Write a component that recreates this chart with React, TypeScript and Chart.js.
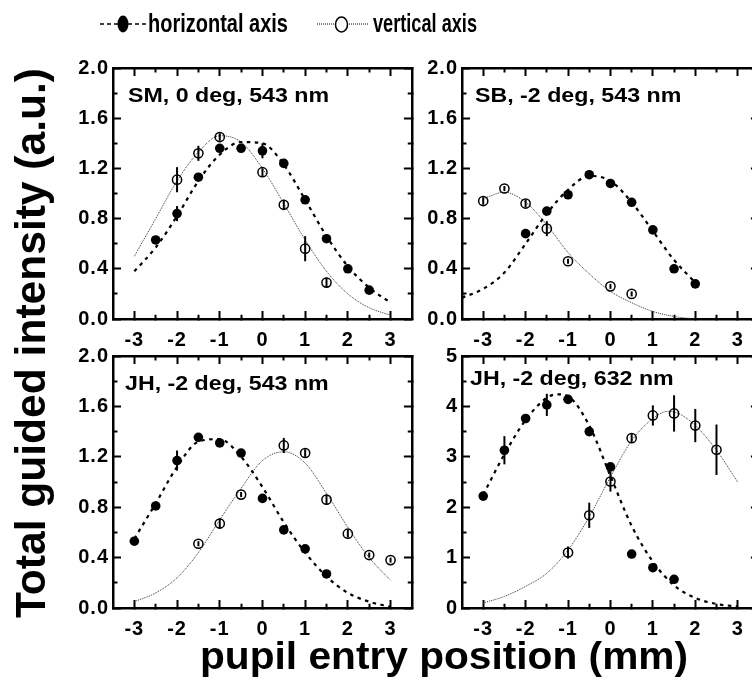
import React, { useEffect, useRef } from "react";
import { Chart, registerables } from "chart.js";

Chart.register(...registerables);

const FONT = "'Liberation Sans', Arial, Helvetica, sans-serif";

// ---- shared ticks / labels ----
const xTickValues = [-3, -2, -1, 0, 1, 2, 3];
const yTickValuesSmall = [0, 0.4, 0.8, 1.2, 1.6, 2.0];
const yTickLabelsSmall = ["0.0", "0.4", "0.8", "1.2", "1.6", "2.0"];
const yTickValuesLarge = [0, 1, 2, 3, 4, 5];
const yTickLabelsLarge = ["0", "1", "2", "3", "4", "5"];
const legendLabels = ["horizontal axis", "vertical axis"];
const xAxisTitle = "pupil entry position (mm)";
const yAxisTitle = "Total guided intensity (a.u.)";

const fitX = [-3, -2.5, -2, -1.5, -1, -0.5, 0, 0.5, 1, 1.5, 2, 2.5, 3];

// ---- Panel 1: SM, 0 deg, 543 nm ----
const p1Title = "SM, 0 deg, 543 nm";
const p1HorizX = [-2.5, -2, -1.5, -1, -0.5, 0, 0.5, 1, 1.5, 2, 2.5];
const p1HorizY = [0.63, 0.84, 1.13, 1.36, 1.36, 1.34, 1.24, 0.95, 0.64, 0.4, 0.23];
const p1HorizErr = [0.02, 0.06, 0.02, 0.02, 0.02, 0.06, 0.02, 0.02, 0.02, 0.02, 0.02];
const p1VertX = [-2, -1.5, -1, 0, 0.5, 1, 1.5];
const p1VertY = [1.11, 1.32, 1.45, 1.17, 0.91, 0.56, 0.29];
const p1VertErr = [0.1, 0.06, 0.03, 0.03, 0.04, 0.1, 0.04];
const p1HorizFitX = fitX;
const p1HorizFitY = [0.38, 0.57, 0.82, 1.1, 1.31, 1.41, 1.4, 1.23, 0.95, 0.66, 0.42, 0.25, 0.13];
const p1VertFitX = fitX;
const p1VertFitY = [0.5, 0.8, 1.1, 1.33, 1.46, 1.41, 1.2, 0.92, 0.63, 0.38, 0.2, 0.09, 0.03];

// ---- Panel 2: SB, -2 deg, 543 nm ----
const p2Title = "SB, -2 deg, 543 nm";
const p2HorizX = [-2, -1.5, -1, -0.5, 0, 0.5, 1, 1.5, 2];
const p2HorizY = [0.68, 0.86, 0.99, 1.15, 1.08, 0.93, 0.71, 0.4, 0.28];
const p2HorizErr = [0.02, 0.02, 0.02, 0.02, 0.02, 0.02, 0.02, 0.02, 0.02];
const p2VertX = [-3, -2.5, -2, -1.5, -1, 0, 0.5];
const p2VertY = [0.94, 1.04, 0.92, 0.72, 0.46, 0.26, 0.2];
const p2VertErr = [0.03, 0.02, 0.03, 0.06, 0.02, 0.02, 0.02];
const p2HorizFitX = [-3.5, -3, -2.5, -2, -1.5, -1, -0.5, 0, 0.5, 1, 1.5, 2];
const p2HorizFitY = [0.17, 0.24, 0.37, 0.6, 0.84, 1.03, 1.14, 1.1, 0.93, 0.7, 0.47, 0.29];
const p2VertFitX = [-3, -2.5, -2, -1.5, -1, -0.5, 0, 0.5, 1, 1.5, 2];
const p2VertFitY = [0.96, 1.01, 0.93, 0.75, 0.53, 0.36, 0.22, 0.13, 0.06, 0.02, 0.0];

// ---- Panel 3: JH, -2 deg, 543 nm ----
const p3Title = "JH, -2 deg, 543 nm";
const p3HorizX = [-3, -2.5, -2, -1.5, -1, -0.5, 0, 0.5, 1, 1.5];
const p3HorizY = [0.53, 0.81, 1.17, 1.355, 1.31, 1.23, 0.87, 0.62, 0.47, 0.27];
const p3HorizErr = [0.02, 0.02, 0.08, 0.03, 0.02, 0.02, 0.02, 0.02, 0.02, 0.02];
const p3VertX = [-1.5, -1, -0.5, 0.5, 1, 1.5, 2, 2.5, 3];
const p3VertY = [0.51, 0.67, 0.9, 1.29, 1.23, 0.86, 0.59, 0.42, 0.38];
const p3VertErr = [0.02, 0.04, 0.02, 0.06, 0.03, 0.04, 0.03, 0.02, 0.02];
const p3HorizFitX = fitX;
const p3HorizFitY = [0.55, 0.83, 1.12, 1.32, 1.34, 1.2, 0.96, 0.68, 0.44, 0.25, 0.12, 0.05, 0.01];
const p3VertFitX = fitX;
const p3VertFitY = [0.05, 0.12, 0.24, 0.44, 0.7, 0.95, 1.17, 1.24, 1.15, 0.91, 0.64, 0.4, 0.22];

// ---- Panel 4: JH, -2 deg, 632 nm ----
const p4Title = "JH, -2 deg, 632 nm";
const p4HorizX = [-3, -2.5, -2, -1.5, -1, -0.5, 0, 0.5, 1, 1.5];
const p4HorizY = [2.22, 3.13, 3.76, 4.03, 4.14, 3.5, 2.8, 1.07, 0.8, 0.57];
const p4HorizErr = [0.06, 0.28, 0.08, 0.22, 0.06, 0.06, 0.06, 0.05, 0.05, 0.05];
const p4VertX = [-1, -0.5, 0, 0.5, 1, 1.5, 2, 2.5];
const p4VertY = [1.1, 1.84, 2.51, 3.37, 3.82, 3.86, 3.62, 3.14];
const p4VertErr = [0.12, 0.25, 0.2, 0.08, 0.2, 0.36, 0.33, 0.5];
const p4HorizFitX = [-3, -2.5, -2, -1.5, -1.25, -1, -0.5, 0, 0.5, 1, 1.5, 2, 2.5, 3];
const p4HorizFitY = [2.25, 3.05, 3.73, 4.17, 4.24, 4.2, 3.62, 2.62, 1.63, 0.92, 0.45, 0.2, 0.08, 0.03];
const p4VertFitX = [-3, -2.5, -2, -1.5, -1, -0.5, 0, 0.5, 1, 1.35, 1.5, 2, 2.5, 3];
const p4VertFitY = [0.1, 0.23, 0.43, 0.69, 1.15, 1.81, 2.6, 3.32, 3.76, 3.9, 3.89, 3.62, 3.13, 2.5];

type Area = { left: number; top: number; right: number; bottom: number };
type PanelDef = {
  title: string;
  titleDx: number;
  titleDy: number;
  hx: number[]; hy: number[]; he: number[];
  vx: number[]; vy: number[]; ve: number[];
  hfx: number[]; hfy: number[];
  vfx: number[]; vfy: number[];
  yMax: number; yTicks: number[]; yLabels: string[];
  area: Area;
};

const panels: PanelDef[] = [
  {
    title: p1Title, titleDx: 15, titleDy: 33.5,
    hx: p1HorizX, hy: p1HorizY, he: p1HorizErr, vx: p1VertX, vy: p1VertY, ve: p1VertErr,
    hfx: p1HorizFitX, hfy: p1HorizFitY, vfx: p1VertFitX, vfy: p1VertFitY,
    yMax: 2, yTicks: yTickValuesSmall, yLabels: yTickLabelsSmall,
    area: { left: 113, top: 68, right: 413, bottom: 319 },
  },
  {
    title: p2Title, titleDx: 13, titleDy: 33.5,
    hx: p2HorizX, hy: p2HorizY, he: p2HorizErr, vx: p2VertX, vy: p2VertY, ve: p2VertErr,
    hfx: p2HorizFitX, hfy: p2HorizFitY, vfx: p2VertFitX, vfy: p2VertFitY,
    yMax: 2, yTicks: yTickValuesSmall, yLabels: yTickLabelsSmall,
    area: { left: 462, top: 68, right: 760, bottom: 319 },
  },
  {
    title: p3Title, titleDx: 12, titleDy: 33.5,
    hx: p3HorizX, hy: p3HorizY, he: p3HorizErr, vx: p3VertX, vy: p3VertY, ve: p3VertErr,
    hfx: p3HorizFitX, hfy: p3HorizFitY, vfx: p3VertFitX, vfy: p3VertFitY,
    yMax: 2, yTicks: yTickValuesSmall, yLabels: yTickLabelsSmall,
    area: { left: 113, top: 356, right: 413, bottom: 608 },
  },
  {
    title: p4Title, titleDx: 8, titleDy: 29,
    hx: p4HorizX, hy: p4HorizY, he: p4HorizErr, vx: p4VertX, vy: p4VertY, ve: p4VertErr,
    hfx: p4HorizFitX, hfy: p4HorizFitY, vfx: p4VertFitX, vfy: p4VertFitY,
    yMax: 5, yTicks: yTickValuesLarge, yLabels: yTickLabelsLarge,
    area: { left: 462, top: 356, right: 760, bottom: 608 },
  },
];

const Y_W = 50;
const X_H = 36;
const PAD_T = 14;
const PAD_R = 5;
const MAJOR = 8;
const MINOR = 4.5;
const FRAME_W = 2.5;

const pts = (xs: number[], ys: number[]) => xs.map((x, i) => ({ x, y: ys[i] }));

// majors plus midpoints between them (minor tick positions)
const withMinors = (majors: number[]) => {
  const out: number[] = [];
  majors.forEach((v, i) => {
    out.push(v);
    if (i < majors.length - 1) out.push((v + majors[i + 1]) / 2);
  });
  return out;
};

const isMajor = (majors: number[], v: number) => majors.some((m) => Math.abs(m - v) < 1e-9);

const panelPlugin = {
  id: "panelDecor",
  beforeDraw(chart: any) {
    // slightly wider tick label lettering, like the original figure
    (chart.ctx as any).letterSpacing = "1px";
  },
  afterDatasetsDraw(chart: any, _args: any, opts: any) {
    const ctx: CanvasRenderingContext2D = chart.ctx;
    const a = chart.chartArea;
    const xs = chart.scales.x;
    const ys = chart.scales.y;
    ctx.save();
    (ctx as any).letterSpacing = "0px";
    ctx.setLineDash([]);
    ctx.strokeStyle = "#000000";
    ctx.fillStyle = "#000000";
    ctx.lineWidth = 2;
    (opts.errors || []).forEach((errs: number[], di: number) => {
      const ds = chart.data.datasets[di];
      ds.data.forEach((p: any, j: number) => {
        const e = errs[j] || 0;
        const px = xs.getPixelForValue(p.x);
        ctx.beginPath();
        ctx.moveTo(px, ys.getPixelForValue(p.y - e));
        ctx.lineTo(px, ys.getPixelForValue(p.y + e));
        ctx.stroke();
      });
    });
    ctx.font = `bold 20px ${FONT}`;
    ctx.textBaseline = "alphabetic";
    ctx.textAlign = "left";
    ctx.translate(a.left + (opts.titleDx || 12), a.top + (opts.titleDy || 33.5));
    ctx.scale(1.16, 1);
    ctx.fillText(opts.title || "", 0, 0);
    ctx.restore();
  },
};

function makeAxis(
  axis: "x" | "y",
  position: "top" | "bottom" | "left" | "right",
  min: number,
  max: number,
  majors: number[],
  labels: string[] | null,
  size: number,
  labelPadding: number
) {
  const all = withMinors(majors);
  const inwardFirst = position === "top" || position === "left";
  const full = MAJOR + FRAME_W / 2;
  const minorDash = MINOR + FRAME_W / 2;
  return {
    type: "linear",
    axis,
    position,
    min,
    max,
    afterBuildTicks: (s: any) => {
      s.ticks = all.map((v) => ({ value: v }));
    },
    afterFit: (s: any) => {
      if (axis === "x") s.height = size;
      else s.width = size;
      s.paddingLeft = 0;
      s.paddingRight = 0;
      s.paddingTop = 0;
      s.paddingBottom = 0;
    },
    grid: {
      display: true,
      drawOnChartArea: false,
      drawTicks: true,
      tickLength: -MAJOR,
      tickWidth: 2,
      tickColor: "#000",
      tickBorderDash: (c: any) => {
        const v = c.tick ? c.tick.value : 0;
        return isMajor(majors, v) ? [] : [minorDash, 200];
      },
      tickBorderDashOffset: (c: any) => {
        const v = c.tick ? c.tick.value : 0;
        return !isMajor(majors, v) && inwardFirst ? -(full - minorDash) : 0;
      },
    },
    border: { display: true, width: FRAME_W, color: "#000" },
    ticks: {
      display: !!labels,
      autoSkip: false,
      maxRotation: 0,
      padding: labelPadding,
      color: "#000",
      font: { family: FONT, size: 20, weight: "bold" },
      callback: (v: any) => {
        if (!labels) return "";
        const idx = majors.findIndex((m) => Math.abs(m - Number(v)) < 1e-9);
        return idx >= 0 ? labels[idx] : "";
      },
    },
  };
}

function Panel({ def }: { def: PanelDef }) {
  const ref = useRef<HTMLCanvasElement>(null);
  const a = def.area;
  const w = Y_W + (a.right - a.left) + PAD_R;
  const h = PAD_T + (a.bottom - a.top) + X_H;
  const left = a.left - Y_W;
  const top = a.top - PAD_T;

  useEffect(() => {
    const canvas = ref.current;
    if (!canvas) return;
    const chart = new Chart(canvas, {
      type: "scatter",
      data: {
        datasets: [
          {
            data: pts(def.hx, def.hy),
            showLine: false,
            pointRadius: 4.8,
            pointBackgroundColor: "#000",
            pointBorderColor: "#000",
            pointBorderWidth: 0,
          },
          {
            data: pts(def.vx, def.vy),
            showLine: false,
            pointRadius: 4.6,
            pointBackgroundColor: "rgba(0,0,0,0)",
            pointBorderColor: "#000",
            pointBorderWidth: 1.5,
          },
          {
            data: pts(def.hfx, def.hfy),
            showLine: true,
            pointRadius: 0,
            borderColor: "#000",
            borderWidth: 2.2,
            borderDash: [3.5, 4.5],
            cubicInterpolationMode: "monotone",
            fill: false,
          },
          {
            data: pts(def.vfx, def.vfy),
            showLine: true,
            pointRadius: 0,
            borderColor: "#333",
            borderWidth: 1,
            borderDash: [1, 1],
            cubicInterpolationMode: "monotone",
            fill: false,
          },
        ] as any,
      },
      options: {
        responsive: false,
        animation: false,
        devicePixelRatio: 1,
        events: [],
        layout: { padding: { left: 0, top: PAD_T, right: PAD_R, bottom: 0 } },
        plugins: {
          legend: { display: false },
          tooltip: { enabled: false },
          title: { display: false },
          panelDecor: {
            title: def.title,
            titleDx: def.titleDx,
            titleDy: def.titleDy,
            errors: [def.he, def.ve],
          },
        } as any,
        scales: {
          x: makeAxis("x", "bottom", -3.5, 3.5, xTickValues, xTickValues.map(String), X_H, 9 + MAJOR),
          x2: makeAxis("x", "top", -3.5, 3.5, xTickValues, null, 0, 0),
          y: makeAxis("y", "left", 0, def.yMax, def.yTicks, def.yLabels, Y_W, 4 + MAJOR),
          y2: makeAxis("y", "right", 0, def.yMax, def.yTicks, null, 0, 0),
        } as any,
      },
      plugins: [panelPlugin as any],
    });
    return () => chart.destroy();
  }, [def]);

  return (
    <canvas
      ref={ref}
      width={w}
      height={h}
      style={{ position: "absolute", left, top, width: w, height: h, display: "block" }}
    />
  );
}

export default function App() {
  return (
    <div
      style={{
        position: "fixed",
        left: 0,
        top: 0,
        width: 752,
        height: 682,
        overflow: "hidden",
        background: "#fff",
      }}
    >
      {panels.map((p, i) => (
        <Panel key={i} def={p} />
      ))}
      <svg
        width={752}
        height={682}
        style={{ position: "absolute", left: 0, top: 0, pointerEvents: "none" }}
        fontFamily={FONT}
        fontWeight="bold"
      >
        <line x1={100} y1={24} x2={147} y2={24} stroke="#000" strokeWidth={1.6} strokeDasharray="4 3" />
        <ellipse cx={123} cy={24} rx={5.5} ry={8.5} fill="#000" />
        <text x={148} y={32} fontSize={26} textLength={140} lengthAdjust="spacingAndGlyphs" fill="#000">
          {legendLabels[0]}
        </text>
        <line x1={317} y1={24} x2={368} y2={24} stroke="#000" strokeWidth={1} strokeDasharray="1 1" />
        <ellipse cx={341.5} cy={24.5} rx={6} ry={7.5} fill="#fff" stroke="#000" strokeWidth={1.5} />
        <text x={373} y={32} fontSize={26} textLength={104} lengthAdjust="spacingAndGlyphs" fill="#000">
          {legendLabels[1]}
        </text>
        <text
          transform="translate(45,343) rotate(-90)"
          textAnchor="middle"
          fontSize={42}
          textLength={550}
          lengthAdjust="spacingAndGlyphs"
          fill="#000"
        >
          {yAxisTitle}
        </text>
        <text
          x={444}
          y={669}
          textAnchor="middle"
          fontSize={38}
          textLength={488}
          lengthAdjust="spacingAndGlyphs"
          fill="#000"
        >
          {xAxisTitle}
        </text>
      </svg>
    </div>
  );
}
